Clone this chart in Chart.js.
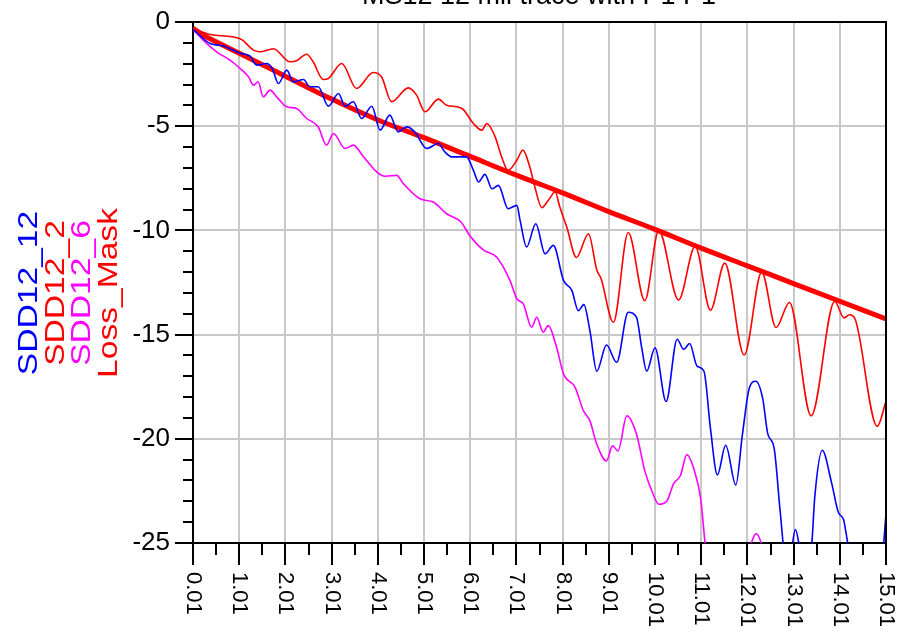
<!DOCTYPE html>
<html>
<head>
<meta charset="utf-8">
<script src="https://cdn.jsdelivr.net/npm/chart.js@4.4.1/dist/chart.umd.min.js"></script>
<style>
  html, body { margin: 0; padding: 0; background: #fff; }
  canvas { display: block; }
</style>
</head>
<body>
<canvas id="chart" width="898" height="631"></canvas>
<script>
// readings taken off the plot: frequency (GHz) and dB for each trace
const sdd12_12Freq = [0.01, 0.38, 0.67, 1.03, 1.24, 1.39, 1.60, 1.72, 1.86, 2.04, 2.18, 2.40, 2.54, 2.72, 2.94, 3.16, 3.30, 3.48, 3.66, 3.88,
  4.06, 4.27, 4.45, 4.64, 4.81, 5.07, 5.32, 5.46, 5.61, 5.93, 6.08, 6.19, 6.33, 6.48, 6.62, 6.83, 7.02, 7.09, 7.23, 7.43,
  7.63, 7.81, 8.03, 8.21, 8.35, 8.47, 8.60, 8.75, 8.96, 9.18, 9.43, 9.61, 9.72, 9.83, 10.01, 10.25, 10.49, 10.63, 10.76, 10.92,
  11.07, 11.21, 11.36, 11.54, 11.76, 11.90, 12.05, 12.19, 12.34, 12.45, 12.59, 12.72, 12.85, 12.95, 13.05, 13.15, 13.25, 13.40, 13.47, 13.63,
  13.83, 13.98, 14.09, 14.19, 14.40, 14.70, 14.92, 15.01];
const sdd12_12Db = [-0.35, -1.03, -1.15, -1.5, -1.63, -2.07, -1.99, -2.2, -2.95, -2.31, -2.87, -2.76, -3.11, -3.11, -4.04, -3.43, -4.04, -3.83, -4.63, -4.04,
  -5.19, -4.47, -5.27, -5.03, -5.27, -6.07, -5.83, -6.23, -6.47, -6.47, -7.12, -7.68, -7.31, -8.0, -7.84, -8.96, -8.8, -9.52, -10.8, -9.68,
  -11.12, -10.72, -12.4, -12.88, -13.85, -13.56, -14.8, -16.76, -15.5, -16.33, -13.93, -14.17, -15.6, -16.76, -15.63, -18.21, -15.22, -15.71, -15.43, -16.51,
  -16.76, -19.5, -21.73, -20.31, -22.21, -19.83, -17.57, -17.24, -18.05, -19.75, -20.47, -23.5, -26.0, -25.5, -24.35, -25.3, -26.0, -25.1, -22.74, -20.55,
  -22.09, -23.54, -23.87, -25.1, -27.0, -27.5, -26.0, -23.6];

const sdd12_2Freq = [0.01, 0.38, 1.03, 1.32, 1.46, 1.75, 2.11, 2.25, 2.47, 2.61, 2.83, 2.94, 3.23, 3.55, 3.91, 4.09, 4.31, 4.67, 4.85, 5.03,
  5.32, 5.50, 5.83, 6.08, 6.26, 6.37, 6.55, 6.69, 6.83, 7.02, 7.15, 7.30, 7.41, 7.56, 7.70, 7.85, 7.95, 8.10, 8.31, 8.57,
  8.75, 8.84, 9.11, 9.43, 9.79, 10.09, 10.52, 10.88, 11.21, 11.52, 11.94, 12.32, 12.63, 12.92, 13.39, 13.90, 14.10, 14.22, 14.34, 14.82,
  15.01];
const sdd12_2Db = [-0.3, -0.6, -0.8, -1.35, -1.43, -1.28, -1.91, -1.86, -1.55, -1.91, -2.76, -2.71, -1.99, -3.19, -2.42, -2.63, -3.83, -3.16, -3.51, -4.31,
  -3.70, -3.99, -4.15, -4.87, -5.19, -4.87, -5.51, -6.47, -7.12, -6.63, -6.15, -6.96, -7.92, -8.91, -8.56, -8.16, -8.88, -9.84, -11.3, -10.16,
  -11.9, -12.3, -14.41, -10.1, -13.37, -10.0, -13.34, -10.76, -13.83, -11.57, -15.98, -12.0, -14.66, -13.46, -18.9, -13.4, -14.2, -14.05, -14.25, -19.4,
  -18.2];

const sdd12_6Freq = [0.01, 0.23, 0.52, 0.81, 1.03, 1.21, 1.32, 1.42, 1.53, 1.68, 1.82, 2.04, 2.25, 2.47, 2.72, 2.90, 3.05, 3.30, 3.48, 3.70,
  3.99, 4.17, 4.42, 4.56, 4.92, 5.21, 5.50, 5.81, 6.01, 6.30, 6.58, 6.87, 7.02, 7.16, 7.34, 7.45, 7.59, 7.70, 7.88, 8.03,
  8.28, 8.46, 8.60, 8.75, 8.96, 9.09, 9.21, 9.40, 9.61, 9.79, 9.97, 10.09, 10.27, 10.41, 10.56, 10.70, 10.85, 11.00, 11.10, 11.30,
  11.70, 12.05, 12.20, 12.35, 12.60, 13.50, 15.01];
const sdd12_6Db = [-0.35, -0.87, -1.43, -1.83, -2.23, -2.63, -3.03, -2.87, -3.59, -3.27, -3.59, -4.07, -4.15, -4.63, -5.03, -5.91, -5.35, -6.07, -5.91, -6.47,
  -7.2, -7.4, -7.36, -7.75, -8.48, -8.64, -9.2, -9.6, -10.28, -10.95, -11.28, -12.4, -13.28, -13.53, -14.65, -14.17, -14.89, -14.57, -15.61, -16.89,
  -17.53, -18.65, -19.13, -20.26, -21.06, -20.34, -20.58, -18.9, -19.78, -21.54, -22.66, -23.14, -22.98, -22.16, -21.76, -20.76, -21.44, -22.88, -25.1, -27.0,
  -28.0, -25.3, -24.55, -25.3, -28.0, -30.0, -31.0];

const lossMaskFreq = [0.01, 0.25, 0.51, 1.01, 1.51, 2.01, 3.01, 4.01, 5.01, 6.01, 7.01, 8.01, 9.01, 10.01, 11.01, 12.01, 13.01, 14.01, 15.01];
const lossMaskDb = [-0.3, -0.65, -0.95, -1.5, -2.05, -2.6, -3.7, -4.7, -5.55, -6.45, -7.35, -8.2, -9.1, -9.95, -10.85, -11.7, -12.55, -13.4, -14.25];

const xTickValues = [0.01, 1.01, 2.01, 3.01, 4.01, 5.01, 6.01, 7.01, 8.01, 9.01, 10.01, 11.01, 12.01, 13.01, 14.01, 15.01];
const xTickLabels = ["0.01", "1.01", "2.01", "3.01", "4.01", "5.01", "6.01", "7.01", "8.01", "9.01", "10.01", "11.01", "12.01", "13.01", "14.01", "15.01"];
const yTickLabels = ["-25", "-20", "-15", "-10", "-5", "0"];

const titleText = "MS12 12 mil trace with P1 P1";

const FONT = '"Liberation Sans", Arial, sans-serif';

function toPoints(freq, db) {
  return freq.map((f, i) => ({ x: f, y: db[i] }));
}

// tick marks, rotated x labels, vertical legend and the clipped title
const decorations = {
  id: "decorations",
  afterDraw(chart) {
    const { ctx, chartArea: a, scales: { x, y } } = chart;
    ctx.save();
    ctx.strokeStyle = "#000";
    ctx.lineWidth = 2;

    // top and right edges of the frame
    ctx.beginPath();
    ctx.moveTo(a.left, a.top);
    ctx.lineTo(a.right, a.top);
    ctx.lineTo(a.right, a.bottom);
    ctx.stroke();

    // y ticks, every 1 dB, long ones every 5
    for (let v = 0; v >= -25; v--) {
      const py = Math.round(y.getPixelForValue(v));
      const len = v % 5 === 0 ? 18 : 10;
      ctx.beginPath();
      ctx.moveTo(a.left - len, py);
      ctx.lineTo(a.left, py);
      ctx.stroke();
    }

    // x ticks, every 0.5 GHz, long ones every 1
    for (let k = 0; k <= 30; k++) {
      const px = Math.round(x.getPixelForValue(0.01 + k * 0.5));
      const len = k % 2 === 0 ? 22 : 12;
      ctx.beginPath();
      ctx.moveTo(px, a.bottom);
      ctx.lineTo(px, a.bottom + len);
      ctx.stroke();
    }

    // x labels turned clockwise
    ctx.fillStyle = "#000";
    ctx.font = "22px " + FONT;
    ctx.textAlign = "left";
    ctx.textBaseline = "middle";
    xTickValues.forEach((v, i) => {
      ctx.save();
      ctx.translate(x.getPixelForValue(v), a.bottom + 29);
      ctx.rotate(Math.PI / 2);
      ctx.fillText(xTickLabels[i], 0, 0);
      ctx.restore();
    });

    // legend: one rotated column per trace
    ctx.font = "28px " + FONT;
    ctx.textAlign = "center";
    ctx.textBaseline = "alphabetic";
    chart.data.datasets.forEach((ds, i) => {
      ctx.save();
      ctx.translate(37 + i * 26.5, 293);
      ctx.rotate(-Math.PI / 2);
      ctx.scale(1.2, 1);
      ctx.fillStyle = ds.borderColor;
      ctx.fillText(ds.label, 0, 0);
      ctx.restore();
    });

    // title, mostly above the top edge of the picture
    ctx.font = "27px " + FONT;
    ctx.fillStyle = "#000";
    ctx.textAlign = "center";
    ctx.fillText(titleText, 539, 4);

    ctx.restore();
  }
};

const lineStyle = { pointRadius: 0, fill: false, cubicInterpolationMode: "monotone" };

new Chart(document.getElementById("chart"), {
  type: "line",
  data: {
    datasets: [
      { label: "SDD12_12", data: toPoints(sdd12_12Freq, sdd12_12Db), borderColor: "#0000ff", borderWidth: 1.6, clip: 0, ...lineStyle },
      { label: "SDD12_2", data: toPoints(sdd12_2Freq, sdd12_2Db), borderColor: "#ff0000", borderWidth: 1.6, clip: 0, ...lineStyle },
      { label: "SDD12_6", data: toPoints(sdd12_6Freq, sdd12_6Db), borderColor: "#ff00ff", borderWidth: 1.6, clip: 0, ...lineStyle },
      { label: "Loss_Mask", data: toPoints(lossMaskFreq, lossMaskDb), borderColor: "#ff0000", borderWidth: 5, ...lineStyle }
    ]
  },
  options: {
    responsive: false,
    animation: false,
    events: [],
    layout: { padding: { top: 22, right: 12, left: 0, bottom: 0 } },
    plugins: {
      legend: { display: false },
      tooltip: { enabled: false },
      title: { display: false }
    },
    scales: {
      x: {
        type: "linear",
        min: 0.01,
        max: 15.01,
        afterBuildTicks: s => { s.ticks = xTickValues.map(v => ({ value: v })); },
        afterFit: s => { s.height = 88; s.paddingLeft = 0; s.paddingRight = 0; },
        ticks: { display: false },
        grid: { color: "#c8c8c8", lineWidth: 2, drawTicks: false },
        border: { color: "#000", width: 2 }
      },
      y: {
        type: "linear",
        min: -25,
        max: 0,
        afterFit: s => { s.width = 193; s.paddingTop = 0; s.paddingBottom = 0; },
        ticks: {
          stepSize: 5,
          padding: 23,
          color: "#000",
          font: { family: FONT, size: 26 },
          callback: (v, i) => yTickLabels[i]
        },
        grid: { color: "#c8c8c8", lineWidth: 2, drawTicks: false },
        border: { color: "#000", width: 2 }
      }
    }
  },
  plugins: [decorations]
});
</script>
</body>
</html>
